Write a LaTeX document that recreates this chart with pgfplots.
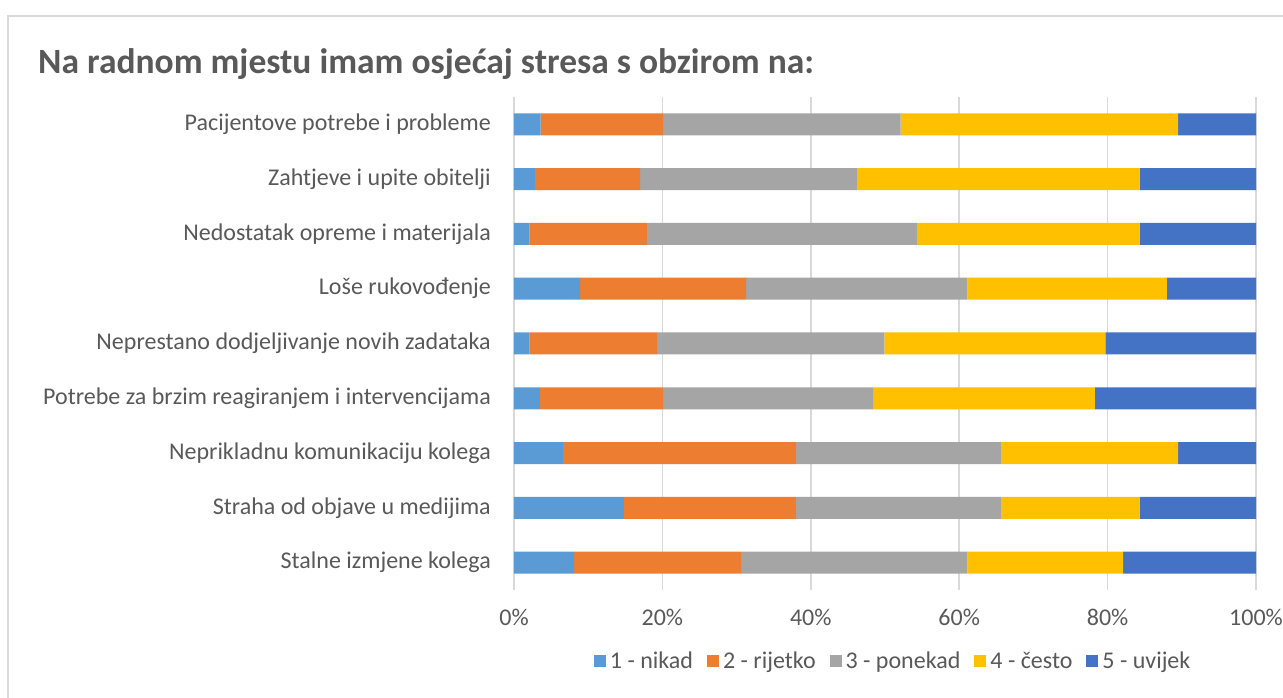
\documentclass[border=0pt]{standalone}
\usepackage{pgfplots}
\pgfplotsset{compat=1.18}
\usepackage{pgfplotstable}
\usepackage{fontspec}
\setmainfont{Carlito}
\definecolor{txt}{HTML}{595959}
\definecolor{gridc}{HTML}{D9D9D9}
\definecolor{c1}{HTML}{5B9BD5}
\definecolor{c2}{HTML}{ED7D31}
\definecolor{c3}{HTML}{A5A5A5}
\definecolor{c4}{HTML}{FFC000}
\definecolor{c5}{HTML}{4472C4}
\pgfplotstableread{
y a b c d e
1 8.1 22.5 30.5 21.0 17.9
2 14.8 23.2 27.6 18.7 15.7
3 6.6 31.4 27.6 23.9 10.5
4 3.5 16.6 28.3 29.9 21.7
5 2.1 17.2 30.6 29.8 20.3
6 8.9 22.4 29.8 26.9 12.0
7 2.1 15.8 36.4 30.0 15.7
8 2.8 14.2 29.2 38.1 15.7
9 3.6 16.5 32.0 37.4 10.5
}\datatable
\begin{document}
\begin{tikzpicture}
\useasboundingbox (0,0) rectangle (1283pt,698pt);
\fill[white] (0,0) rectangle (1283pt,698pt);
\draw[gridc, line width=2pt] (8pt,0pt) -- (8pt,682pt) -- (1283pt,682pt);
\node[anchor=base west, inner sep=0pt, text=txt, font=\fontsize{35.5}{42}\selectfont\bfseries] at (38pt,624pt) {Na radnom mjestu imam osjećaj stresa s obzirom na:};
\begin{axis}[
  at={(514pt,108pt)}, anchor=south west,
  scale only axis, width=742pt, height=493pt,
  xbar stacked, bar width=22pt,
  xmin=0, xmax=100, ymin=0.5, ymax=9.5,
  axis line style={draw=none},
  major tick length=0pt,
  xmajorgrids, grid style={gridc, line width=1.5pt},
  xtick={0,20,40,60,80,100},
  xticklabels={0\%,20\%,40\%,60\%,80\%,100\%},
  ytick={1,...,9},
  yticklabels={Stalne izmjene kolega, Straha od objave u medijima, Neprikladnu komunikaciju kolega, Potrebe za brzim reagiranjem i intervencijama, Neprestano dodjeljivanje novih zadataka, Loše rukovođenje, Nedostatak opreme i materijala, Zahtjeve i upite obitelji, Pacijentove potrebe i probleme},
  ticklabel style={text=txt, font=\fontsize{24}{28}\selectfont, inner sep=0pt},
  yticklabel style={xshift=-23pt},
  xticklabel style={yshift=-19pt},
  legend columns=5,
  legend style={at={(0.511,-0.144)}, anchor=center, draw=none, fill=none,
    font=\fontsize{24}{28}\selectfont, text=txt,
    /tikz/every even column/.append style={column sep=12pt},
    /tikz/every odd column/.append style={column sep=2pt}},
  legend image code/.code={\fill[#1] (0pt,-6pt) rectangle (12pt,6pt);},
  every axis plot/.append style={draw=none},
]
\addplot[fill=c1] table[x=a,y=y]{\datatable};
\addplot[fill=c2] table[x=b,y=y]{\datatable};
\addplot[fill=c3] table[x=c,y=y]{\datatable};
\addplot[fill=c4] table[x=d,y=y]{\datatable};
\addplot[fill=c5] table[x=e,y=y]{\datatable};
\legend{1 - nikad, 2 - rijetko, 3 - ponekad, 4 - često, 5 - uvijek}
\end{axis}
\end{tikzpicture}
\end{document}
